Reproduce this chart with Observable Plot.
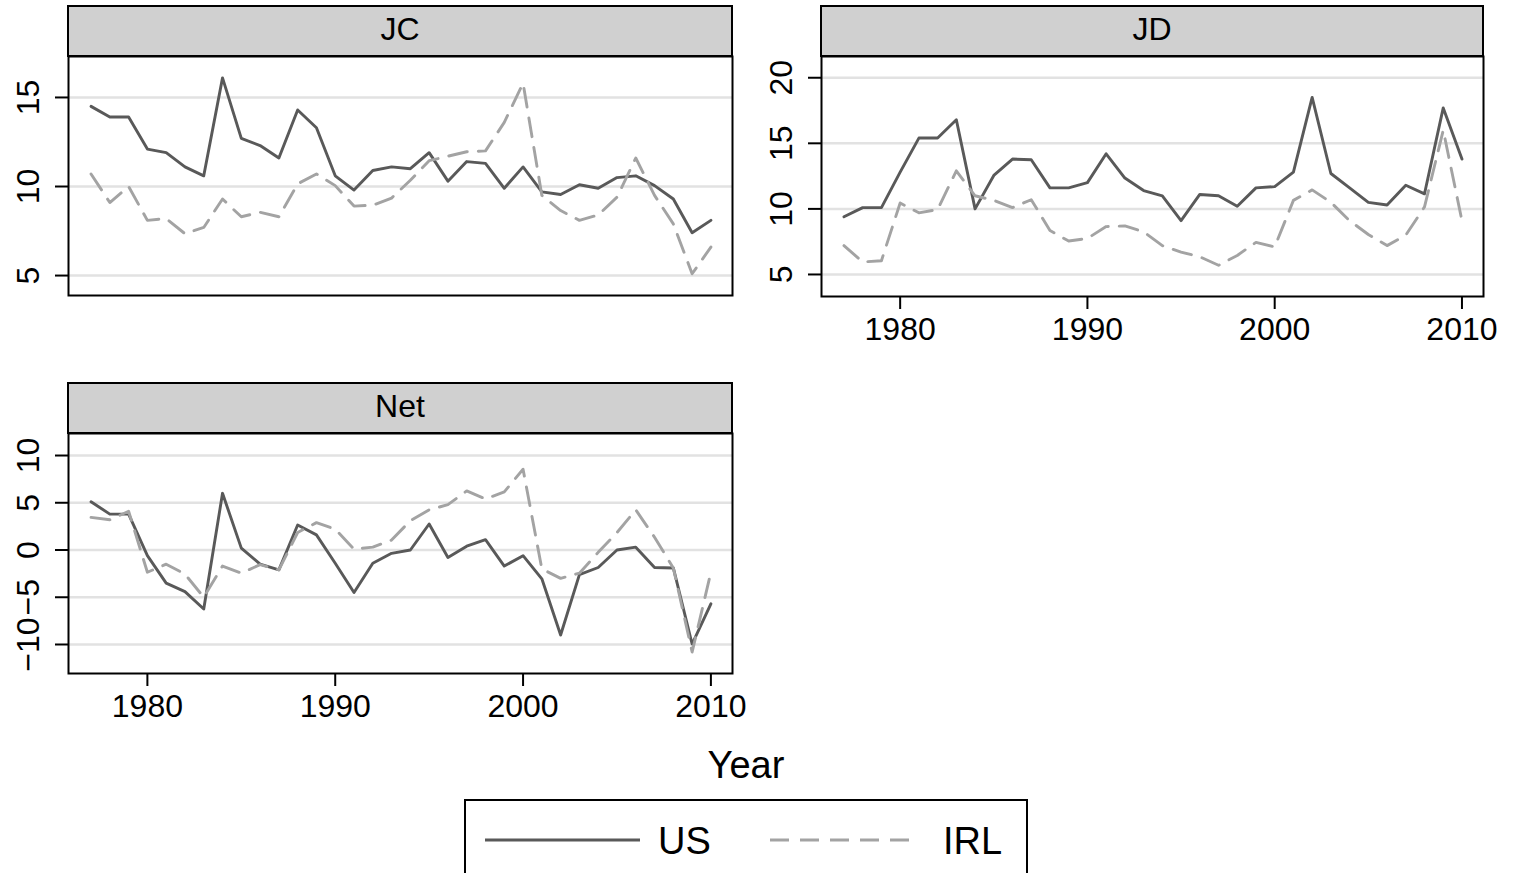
<!DOCTYPE html>
<html><head><meta charset="utf-8">
<script src="https://cdn.jsdelivr.net/npm/d3@7"></script>
<script src="https://cdn.jsdelivr.net/npm/@observablehq/plot@0.6"></script>
<style>
body{margin:0;background:#fff;font-family:"Liberation Sans",Arial,sans-serif;}
#wrap{position:relative;width:1513px;height:873px;overflow:hidden;background:#fff;}
.panel{position:absolute;}
.strip{position:absolute;box-sizing:border-box;border:2px solid #000;background:#d0d0d0;text-align:center;font-size:32px;line-height:44px;color:#000;font-family:"Liberation Sans",Arial,sans-serif;}
#overlay{position:absolute;left:0;top:0;}
</style></head>
<body><div id="wrap"></div>
<script>
const years = [1977,1978,1979,1980,1981,1982,1983,1984,1985,1986,1987,1988,1989,1990,1991,1992,1993,1994,1995,1996,1997,1998,1999,2000,2001,2002,2003,2004,2005,2006,2007,2008,2009,2010];
const jcUS  = [14.5,13.9,13.9,12.1,11.9,11.1,10.6,16.1,12.7,12.3,11.6,14.3,13.3,10.6,9.8,10.9,11.1,11.0,11.9,10.3,11.4,11.3,9.9,11.1,9.7,9.55,10.1,9.9,10.5,10.6,10.05,9.3,7.4,8.1];
const jcIRL = [10.7,9.1,10.0,8.1,8.2,7.35,7.7,9.3,8.3,8.55,8.3,10.15,10.7,10.05,8.9,8.95,9.35,10.35,11.45,11.7,11.95,12.0,13.6,15.8,9.5,8.65,8.1,8.4,9.4,11.6,9.5,7.9,5.1,6.6];
const jdUS  = [9.4,10.1,10.1,12.8,15.4,15.4,16.8,10.0,12.55,13.8,13.75,11.6,11.6,12.0,14.2,12.35,11.4,11.0,9.1,11.1,11.0,10.2,11.6,11.7,12.8,18.5,12.7,11.6,10.5,10.3,11.8,11.15,17.7,13.8];
const jdIRL = [7.2,5.95,6.05,10.45,9.7,9.95,12.9,11.0,10.65,10.1,10.7,8.35,7.55,7.75,8.65,8.7,8.25,7.2,6.7,6.35,5.7,6.45,7.45,7.1,10.65,11.45,10.5,9.1,8.05,7.2,8.0,10.15,16.0,9.1];
const netUS = [5.1,3.8,3.8,-0.6,-3.5,-4.4,-6.25,6.0,0.2,-1.5,-2.1,2.65,1.6,-1.4,-4.5,-1.4,-0.35,0.0,2.75,-0.8,0.4,1.1,-1.7,-0.6,-3.05,-9.0,-2.6,-1.85,0.0,0.3,-1.85,-1.9,-9.95,-5.7];
const netIRL= [3.45,3.2,4.1,-2.35,-1.5,-2.55,-5.0,-1.7,-2.45,-1.55,-2.1,1.85,2.9,2.2,0.1,0.3,1.05,3.1,4.25,4.8,6.25,5.4,6.15,8.55,-2.0,-3.0,-2.45,-0.25,1.85,4.25,1.35,-1.9,-10.8,-2.35];
const panelNames = ["JC","JD","Net"];
const seriesNames = ["US","IRL"];
const xTicks = [1980,1990,2000,2010];
const jcTicks = [5,10,15];
const jdTicks = [5,10,15,20];
const netTicks = [-10,-5,0,5,10];

const FONT = "Liberation Sans, Arial, sans-serif";
const US_COLOR = "#595959", IRL_COLOR = "#a3a3a3";
const DASH = "19,11";
const fmt = d => (d < 0 ? "\u2212" + Math.abs(d) : String(d));
const rows = arr => years.map((year, i) => ({year, v: arr[i]}));

const wrap = document.getElementById("wrap");

function panel(o) {
  const svg = Plot.plot({
    width: o.width, height: o.height,
    marginTop: o.mt, marginBottom: o.mb, marginLeft: o.ml, marginRight: o.mr,
    style: {fontFamily: FONT, fontSize: "32px", color: "#000", background: "transparent", overflow: "visible"},
    x: {domain: [1975.8, 2011.15], axis: null},
    y: {domain: o.yDomain, axis: null},
    marks: [
      Plot.ruleY(o.yTicks, {stroke: "#e2e2e2", strokeWidth: 2.5}),
      Plot.line(rows(o.us), {x: "year", y: "v", stroke: US_COLOR, strokeWidth: 2.9}),
      Plot.line(rows(o.irl), {x: "year", y: "v", stroke: IRL_COLOR, strokeWidth: 2.9, strokeDasharray: DASH}),
      Plot.axisY({ticks: o.yTicks, tickSize: 13, fill: "none", stroke: "#000", strokeWidth: 2, label: null}),
      Plot.text(o.yTicks, {y: d => d, frameAnchor: "left", dx: -30, rotate: -90, textAnchor: "middle", lineAnchor: "bottom", text: d => fmt(d), fontSize: 32, fill: "#000"}),
      o.xAxis ? Plot.axisX({ticks: xTicks, tickSize: 13, tickPadding: 8, stroke: "#000", strokeWidth: 2, fontSize: 32, tickFormat: d => String(d), label: null}) : null,
      Plot.frame({stroke: "#000", strokeWidth: 2})
    ]
  });
  svg.classList.add("panel");
  svg.style.left = o.left + "px";
  svg.style.top = o.top + "px";
  wrap.appendChild(svg);
  const s = document.createElement("div");
  s.className = "strip";
  s.textContent = o.name;
  s.style.left = (o.left + o.ml - 1) + "px";
  s.style.top = (o.top + o.mt - 51) + "px";
  s.style.width = (o.width - o.ml - o.mr + 2) + "px";
  s.style.height = "52px";
  wrap.appendChild(s);
}

panel({name: panelNames[0], us: jcUS, irl: jcIRL, yDomain: [3.88, 17.3], yTicks: jcTicks, xAxis: false,
  left: 0, top: 0, width: 745, height: 299, mt: 56, mb: 4, ml: 68, mr: 13});
panel({name: panelNames[1], us: jdUS, irl: jdIRL, yDomain: [3.32, 21.62], yTicks: jdTicks, xAxis: true,
  left: 750, top: 0, width: 745, height: 350, mt: 56, mb: 54, ml: 71, mr: 12});
panel({name: panelNames[2], us: netUS, irl: netIRL, yDomain: [-13.07, 12.33], yTicks: netTicks, xAxis: true,
  left: 0, top: 380, width: 745, height: 345, mt: 53, mb: 52, ml: 68, mr: 13});

// axis title and legend
const ov = d3.select(wrap).append("svg").attr("id", "overlay").attr("width", 1513).attr("height", 873)
  .style("font-family", FONT);
ov.append("text").attr("x", 746).attr("y", 778).attr("text-anchor", "middle").attr("font-size", 38).attr("fill", "#000").text("Year");
ov.append("rect").attr("x", 465).attr("y", 800).attr("width", 562).attr("height", 100).attr("fill", "#fff").attr("stroke", "#000").attr("stroke-width", 2);
ov.append("line").attr("x1", 485).attr("x2", 640).attr("y1", 840).attr("y2", 840).attr("stroke", US_COLOR).attr("stroke-width", 3);
ov.append("text").attr("x", 658).attr("y", 854).attr("font-size", 38).attr("fill", "#000").text(seriesNames[0]);
ov.append("line").attr("x1", 770).attr("x2", 920).attr("y1", 840).attr("y2", 840).attr("stroke", IRL_COLOR).attr("stroke-width", 3).attr("stroke-dasharray", DASH);
ov.append("text").attr("x", 943).attr("y", 854).attr("font-size", 38).attr("fill", "#000").text(seriesNames[1]);
</script></body></html>
